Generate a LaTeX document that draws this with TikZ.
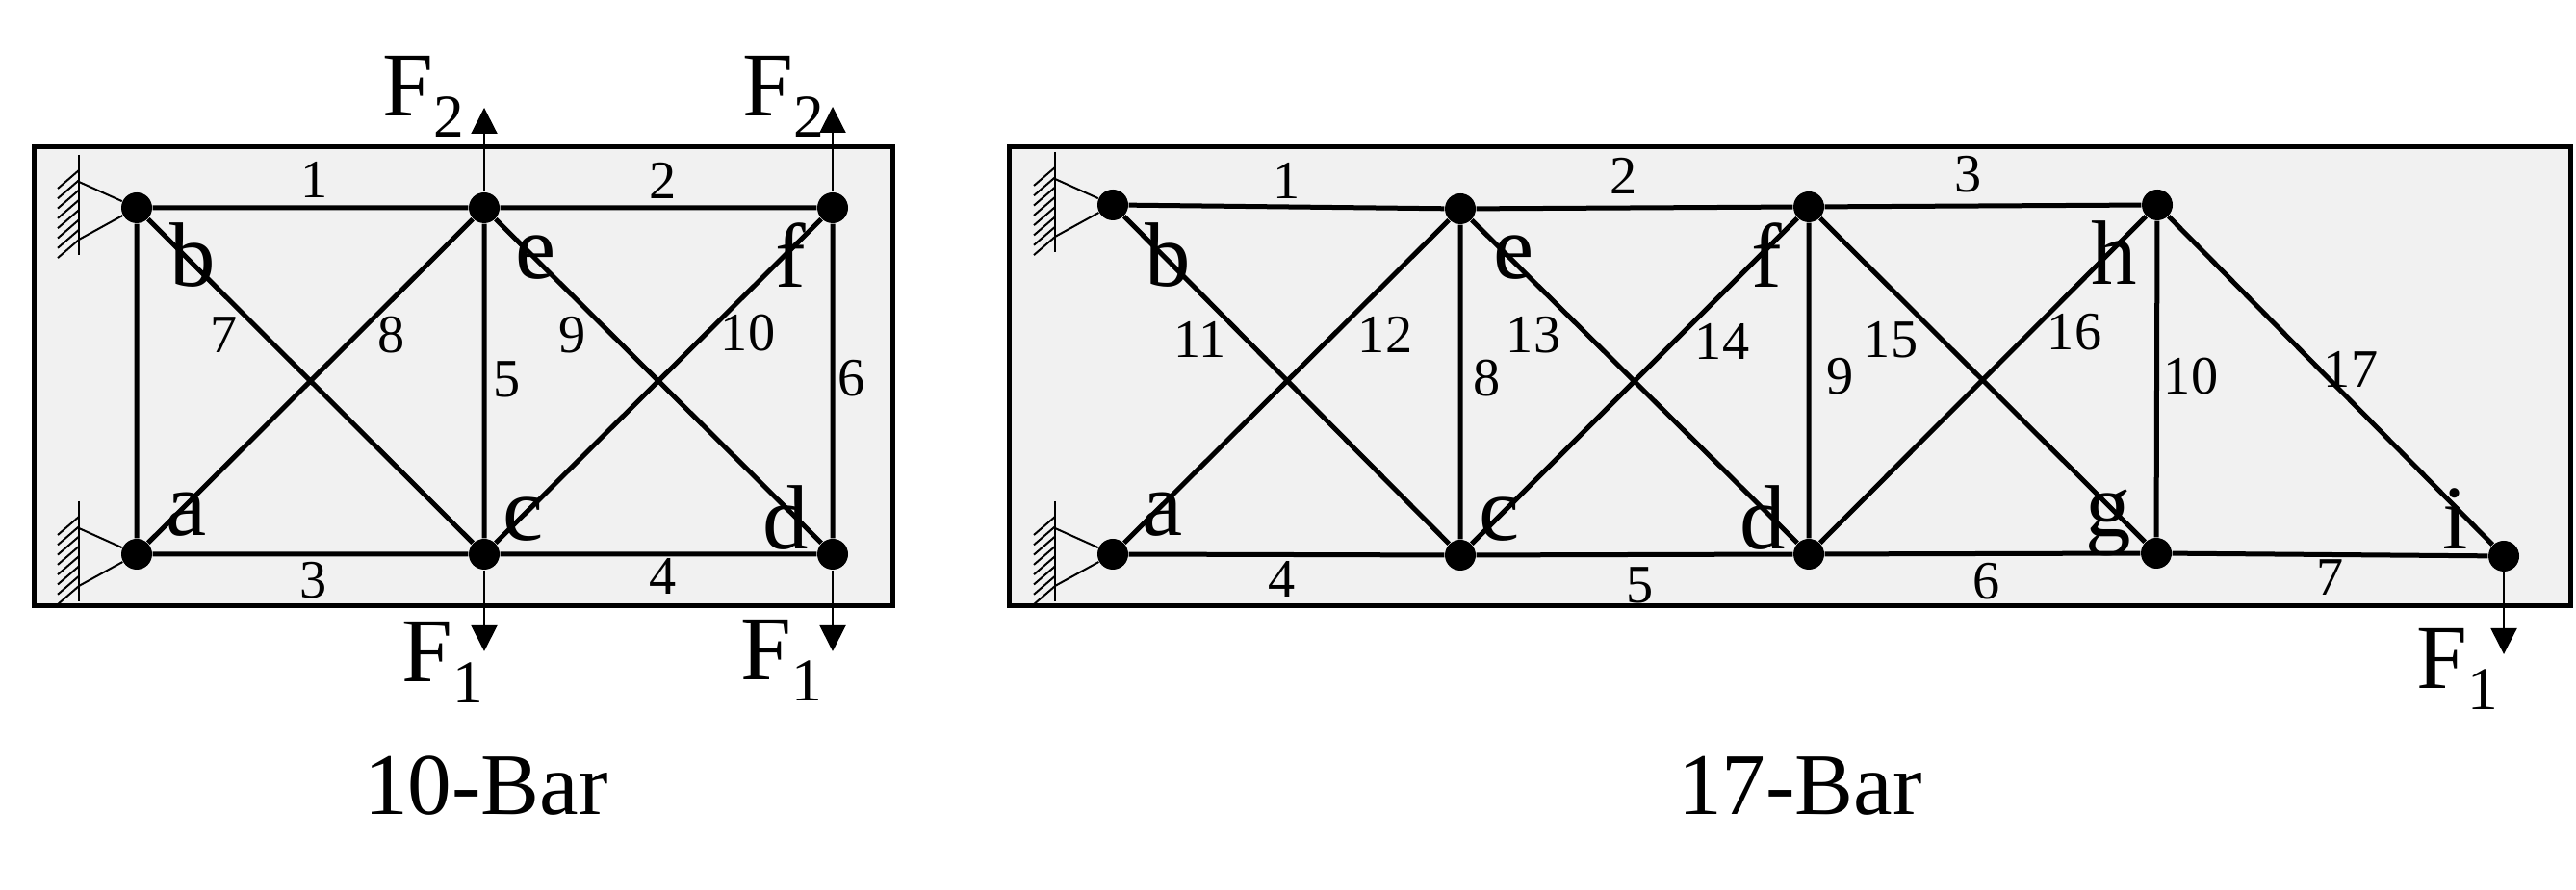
\documentclass[tikz,border=0pt]{standalone}
\usepackage{fontspec}
\setmainfont{Liberation Serif}
\usetikzlibrary{arrows.meta}
\definecolor{panel}{HTML}{F1F1F1}
\newcommand{\forcelab}[1]{F\raisebox{-0.22cm}{\fontsize{18}{18}\selectfont #1}}

\begin{document}
\begin{tikzpicture}[
    panelbox/.style={draw=black, fill=panel, line width=0.05cm},
    bar/.style={line width=0.05cm},
    thinline/.style={line width=0.02cm},
    load/.style={thinline, -{Triangle[width=0.27cm, length=0.27cm]}},
    joint/.style={circle, fill=black, inner sep=0pt, minimum size=0.32cm},
    num/.style={inner sep=0pt, font=\fontsize{16}{16}\selectfont},
    letter/.style={inner sep=0pt, font=\fontsize{27}{27}\selectfont},
    forcetxt/.style={inner sep=0pt, anchor=base west, font=\fontsize{27}{27}\selectfont},
    title/.style={inner sep=0pt, font=\fontsize{26}{26}\selectfont},
    support/.pic={
      \draw[thinline] (-0.60,0.55)--(-0.60,-0.49);
      \foreach \y in {0.39,0.287,...,-0.34}
        \draw[thinline] (-0.60,\y)--(-0.82,\y-0.19);
      \coordinate (-u) at (-0.60,0.27);
      \coordinate (-l) at (-0.60,-0.33);
    }]
  \useasboundingbox (0,0) rectangle (26.76,9.25);

  \draw[panelbox] (0.35,2.95) rectangle (9.27,7.72);

  \node[joint] (a) at (1.42,3.49) {};
  \node[joint] (b) at (1.42,7.09) {};
  \node[joint] (c) at (5.03,3.49) {};
  \node[joint] (d) at (8.65,3.49) {};
  \node[joint] (e) at (5.03,7.09) {};
  \node[joint] (f) at (8.65,7.09) {};

  \draw[bar] (a)--(b)--(e)--(f)--(d)--(c)--(a)--(e)--(c)--(b);
  \draw[bar] (c)--(f);
  \draw[bar] (e)--(d);

  \pic (sa) at (a) {support};
  \pic (sb) at (b) {support};
  \draw[thinline] (sa-u)--(a)--(sa-l);
  \draw[thinline] (sb-u)--(b)--(sb-l);

  \coordinate (fe) at (5.03,8.13);
  \coordinate (ff) at (8.65,8.14);
  \coordinate (fc) at (5.03,2.48);
  \coordinate (fd) at (8.65,2.48);
  \draw[load] (e)--(fe);
  \draw[load] (f)--(ff);
  \draw[load] (c)--(fc);
  \draw[load] (d)--(fd);

  \node[forcetxt] (le) at (3.97,8.04) {\forcelab{2}};
  \node[forcetxt] (lf) at (7.71,8.04) {\forcelab{2}};
  \node[forcetxt] (lc) at (4.17,2.16) {\forcelab{1}};
  \node[forcetxt] (ld) at (7.69,2.18) {\forcelab{1}};

  \node[letter] (ta) at (1.94,3.90) {a};
  \node[letter] (tb) at (2.00,6.60) {b};
  \node[letter] (tc) at (5.44,3.85) {c};
  \node[letter] (td) at (8.16,3.87) {d};
  \node[letter] (te) at (5.57,6.57) {e};
  \node[letter] (tf) at (8.21,6.60) {f};

  \node[num] (n1) at (3.27,7.38) {1};
  \node[num] (n2) at (6.89,7.37) {2};
  \node[num] (n3) at (3.26,3.22) {3};
  \node[num] (n4) at (6.89,3.26) {4};
  \node[num] (n5) at (5.27,5.31) {5};
  \node[num] (n6) at (8.85,5.32) {6};
  \node[num] (n7) at (2.33,5.77) {7};
  \node[num] (n8) at (4.07,5.77) {8};
  \node[num] (n9) at (5.95,5.77) {9};
  \node[num] (n10) at (7.77,5.79) {10};

  \node[title] (t10) at (5.05,1.08) {10-Bar};

  \begin{scope}[xshift=10.13cm]
  \draw[panelbox] (0.35,2.95) rectangle (16.57,7.72);

  \node[joint] (a) at (1.43,3.49) {};
  \node[joint] (b) at (1.43,7.12) {};
  \node[joint] (c) at (5.04,3.48) {};
  \node[joint] (d) at (8.66,3.49) {};
  \node[joint] (e) at (5.04,7.08) {};
  \node[joint] (f) at (8.66,7.10) {};
  \node[joint] (g) at (12.27,3.50) {};
  \node[joint] (h) at (12.28,7.12) {};
  \node[joint] (i) at (15.88,3.47) {};

  \draw[bar] (b)--(e)--(f)--(h)--(i)--(g)--(d)--(c)--(a)--(e)--(c)--(b);
  \draw[bar] (c)--(f)--(d)--(e);
  \draw[bar] (d)--(h)--(g)--(f);

  \pic (sa) at (a) {support};
  \pic (sb) at (b) {support};
  \draw[thinline] (sa-u)--(a)--(sa-l);
  \draw[thinline] (sb-u)--(b)--(sb-l);

  \coordinate (fi) at (15.88,2.45);
  \draw[load] (i)--(fi);
  \node[forcetxt] (li) at (14.97,2.09) {\forcelab{1}};

  \node[letter] (ta) at (1.95,3.90) {a};
  \node[letter] (tb) at (2.00,6.60) {b};
  \node[letter] (tc) at (5.45,3.85) {c};
  \node[letter] (td) at (8.18,3.87) {d};
  \node[letter] (te) at (5.60,6.57) {e};
  \node[letter] (tf) at (8.22,6.60) {f};
  \node[letter] (tg) at (11.77,3.82) {g};
  \node[letter] (th) at (11.83,6.62) {h};
  \node[letter] (ti) at (15.38,3.86) {i};

  \node[num] (n1) at (3.24,7.37) {1};
  \node[num] (n2) at (6.74,7.42) {2};
  \node[num] (n3) at (10.32,7.44) {3};
  \node[num] (n4) at (3.19,3.23) {4};
  \node[num] (n5) at (6.91,3.17) {5};
  \node[num] (n6) at (10.51,3.21) {6};
  \node[num] (n7) at (14.08,3.25) {7};
  \node[num] (n8) at (5.32,5.32) {8};
  \node[num] (n9) at (8.99,5.34) {9};
  \node[num] (n10) at (12.63,5.34) {10};
  \node[num] (n11) at (2.34,5.72) {11};
  \node[num] (n12) at (4.26,5.77) {12};
  \node[num] (n13) at (5.80,5.77) {13};
  \node[num] (n14) at (7.76,5.70) {14};
  \node[num] (n15) at (9.51,5.72) {15};
  \node[num] (n16) at (11.42,5.80) {16};
  \node[num] (n17) at (14.29,5.41) {17};

  \node[title] (t17) at (8.57,1.08) {17-Bar};
  \end{scope}

\end{tikzpicture}
\end{document}
